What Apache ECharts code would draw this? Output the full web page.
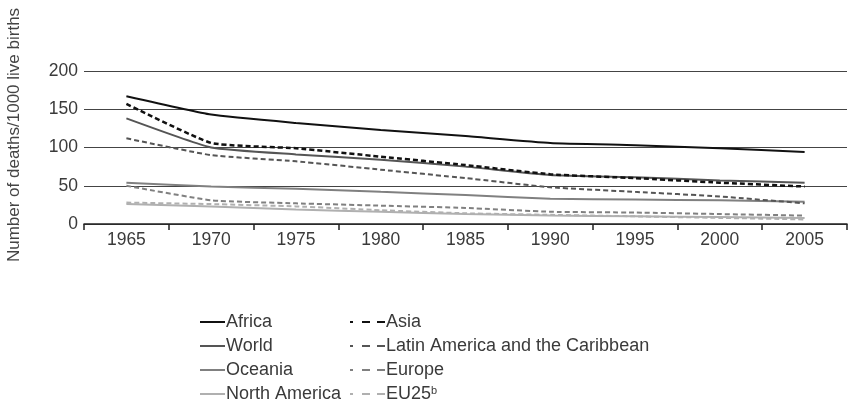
<!DOCTYPE html>
<html>
<head>
<meta charset="utf-8">
<script src="https://cdn.jsdelivr.net/npm/echarts@6/dist/echarts.min.js"></script>
<style>
  html, body { margin: 0; padding: 0; background: #fff; }
  #chart { width: 850px; height: 411px; }
</style>
</head>
<body>
<div id="chart"></div>
<script>
// years on the x axis
const years = ['1965', '1970', '1975', '1980', '1985', '1990', '1995', '2000', '2005']

// deaths per 1000 live births
const africa = [167, 143, 132, 123, 115, 106, 103, 99, 94]
const world = [138, 100, 91, 84, 75, 64, 61, 57, 54]
const oceania = [54, 49, 46, 42, 38, 33, 32, 31, 29]
const northAmerica = [26, 23, 19, 16, 13, 11, 10, 9, 8]
const asia = [157, 106, 99, 88, 77, 65, 60, 54, 49]
const latinAmerica = [112, 90, 82, 71, 60, 48, 42, 36, 27]
const europe = [50, 31, 27, 24, 21, 16, 15, 13, 11]
const eu25 = [28, 26, 23, 18, 14, 12, 10, 8, 6]

const yTicks = [0, 50, 100, 150, 200]

const font = 'Liberation Sans'
const textColor = '#3a3a3a'
const solidIcon = 'path://M0,6 L25,6 L25,8 L0,8 Z'
const dashIcon = 'path://M0,6 L3,6 L3,8 L0,8 Z M12,6 L20,6 L20,8 L12,8 Z M27,6 L35,6 L35,8 L27,8 Z'

function line(name, data, color, dashed, width) {
  return {
    name: name,
    type: 'line',
    data: data,
    smooth: 0.15,
    symbol: 'none',
    color: color,
    lineStyle: {
      color: color,
      width: width || 2,
      type: dashed ? [5, 3] : 'solid'
    },
    z: dashed ? 3 : 2
  }
}

const legendText = {
  color: textColor,
  fontSize: 18,
  lineHeight: 18,
  fontFamily: font,
  padding: [0, 0, 0, -4]
}

const chart = echarts.init(document.getElementById('chart'))
chart.setOption({
  animation: false,
  backgroundColor: '#fff',
  textStyle: { fontFamily: font },
  grid: {
    left: 84,
    right: 3,
    top: 71,
    bottom: 187
  },
  xAxis: {
    type: 'category',
    data: years,
    boundaryGap: true,
    axisLine: { lineStyle: { color: '#222', width: 1.5 } },
    axisTick: { show: true, length: 6, lineStyle: { color: '#222', width: 1.5 } },
    axisLabel: { color: textColor, fontSize: 17.5, margin: 7, fontFamily: font }
  },
  yAxis: {
    type: 'value',
    min: yTicks[0],
    max: yTicks[yTicks.length - 1],
    interval: 50,
    axisLine: { show: false },
    axisTick: { show: false },
    axisLabel: { color: textColor, fontSize: 17.5, margin: 6, fontFamily: font },
    splitLine: { lineStyle: { color: '#444', width: 1.2 } }
  },
  graphic: [{
    type: 'text',
    x: 14,
    y: 135,
    rotation: Math.PI / 2,
    style: {
      text: 'Number of deaths/1000 live births',
      fill: '#444',
      font: '17px "Liberation Sans"',
      align: 'center',
      verticalAlign: 'middle'
    }
  }],
  legend: [{
    orient: 'vertical',
    left: 195,
    top: 308,
    height: 103,
    itemWidth: 25,
    itemHeight: 14,
    itemGap: 6,
    icon: solidIcon,
    data: ['Africa', 'World', 'Oceania', 'North America'],
    textStyle: legendText
  }, {
    orient: 'vertical',
    left: 345,
    top: 308,
    height: 103,
    itemWidth: 35,
    itemHeight: 14,
    itemGap: 6,
    icon: dashIcon,
    data: ['Asia', 'Latin America and the Caribbean', 'Europe', 'EU25'],
    formatter: function (name) {
      return name === 'EU25' ? 'EU25{sup|b}' : name
    },
    textStyle: Object.assign({}, legendText, {
      rich: {
        sup: { fontSize: 11, verticalAlign: 'top', padding: [0, 0, 8, 0], color: textColor, fontFamily: font }
      }
    })
  }],
  series: [
    line('North America', northAmerica, '#b0b0b0'),
    line('EU25', eu25, '#b0b0b0', true),
    line('Europe', europe, '#808080', true),
    line('Oceania', oceania, '#808080'),
    line('Latin America and the Caribbean', latinAmerica, '#555', true),
    line('World', world, '#555'),
    line('Asia', asia, '#111', true, 2.5),
    line('Africa', africa, '#111')
  ]
})
</script>
</body>
</html>
